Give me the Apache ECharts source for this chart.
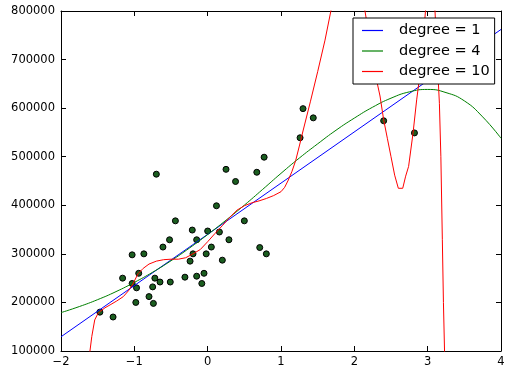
<!DOCTYPE html>
<html>
<head>
<meta charset="utf-8">
<script src="https://cdn.jsdelivr.net/npm/echarts@6/dist/echarts.min.js"></script>
<style>html,body{margin:0;padding:0;background:#fff}#c{width:515px;height:380px}</style>
</head>
<body>
<div id="c"></div>
<script>
// Data
var xTicks = [-2, -1, 0, 1, 2, 3, 4];
var yTicks = [100000, 200000, 300000, 400000, 500000, 600000, 700000, 800000];
var seriesNames = ['degree = 1', 'degree = 4', 'degree = 10'];

var pointsX = [-1.47, -1.29, -1.16, -1.03, -0.87, -0.70, -0.44, -0.21, -0.15, -0.52,
  -0.61, -0.20, -0.24, -0.94, -0.72, -0.31, -0.15, -0.65, -0.51, -1.03,
  -0.97, -0.75, -0.80, -0.98, -0.74, 0.77, 0.25, 0.67, 0.38, 0.12,
  0.50, 0.00, 0.16, 0.29, 0.05, -0.02, 0.71, 0.80, 0.20, -0.05,
  -0.08, 1.30, 1.44, 1.26, 2.40, 2.82];
var pointsY = [180000, 170000, 250000, 298000, 300000, 464000, 368000, 349000, 329000, 329000,
  314000, 300000, 285000, 260000, 250000, 252000, 254000, 242000, 242000, 239000,
  230000, 232000, 212000, 200000, 198000, 499000, 474000, 468000, 449000, 399000,
  368000, 347000, 345000, 329000, 314000, 300000, 313000, 300000, 287000, 260000,
  239000, 599000, 580000, 539000, 574000, 549000];

var deg1X = [-2, 4];
var deg1Y = [129300, 762000];

var deg4X = [-2, -1.75, -1.5, -1.25, -1, -0.75, -0.5, -0.25, 0, 0.25, 0.5, 0.75, 1,
  1.25, 1.5, 1.75, 2, 2.25, 2.5, 2.75, 3, 3.25, 3.5, 3.75, 4];
var deg4Y = [179000, 191500, 205750, 222250, 241250, 262250, 285750, 311750, 339750, 369250,
  400250, 432750, 465750, 497250, 526500, 554500, 579500, 602000, 620500, 633500, 638500,
  632000, 615000, 582000, 538000];

var deg10X = [-1.64, -1.605, -1.58, -1.54, -1.50, -1.47, -1.40, -1.33, -1.24, -1.15, -1.08, -1.02,
  -0.95, -0.88, -0.80, -0.70, -0.60, -0.50, -0.40, -0.30, -0.20, -0.10, 0.0, 0.1, 0.2, 0.3, 0.4,
  0.5, 0.6, 0.7, 0.8, 0.9, 1.0, 1.05, 1.1, 1.15, 1.2, 1.25, 1.3, 1.4, 1.5, 1.6, 1.68, 1.8, 1.9, 2.0, 2.08, 2.145,
  2.25, 2.30, 2.35, 2.40, 2.45, 2.50, 2.55, 2.60, 2.66, 2.70, 2.74, 2.80, 2.85, 2.885, 2.92, 2.95, 2.97, 3.03,
  3.07, 3.10, 3.13, 3.16, 3.18, 3.20, 3.215, 3.23, 3.25];
var deg10Y = [-20000, 100000, 130000, 164000, 176000, 181000, 189000, 195000, 203000, 212000, 224000, 238000,
  259000, 270000, 279000, 285000, 288000, 289000, 289000, 292000, 300000, 309000, 325000, 342000, 358000, 375000, 390000,
  399000, 405000, 409000, 414000, 420000, 428000, 437000, 452000, 470000, 492000, 522000, 553000, 613000, 675000, 740000, 800000, 900000, 950000, 940000, 880000, 800000,
  705000, 660000, 625000, 576000, 538000, 500000, 462000, 435000, 435000, 460000, 480000, 548000, 617000, 658000, 710000, 760000, 800000, 870000,
  850000, 800000, 700000, 610000, 500000, 330000, 200000, 100000, -80000];

function zip(a, b) { return a.map(function (v, i) { return [v, b[i]]; }); }

var FONT = 'DejaVu Sans';
var chart = echarts.init(document.getElementById('c'), null, { renderer: 'canvas' });
var tickStyle = { show: true, inside: true, length: 5, lineStyle: { color: '#000', width: 1 } };
var lineStyleAxis = { show: true, onZero: false, lineStyle: { color: '#000', width: 1 } };

chart.setOption({
  animation: false,
  backgroundColor: '#fff',
  grid: { left: 61, right: 14, top: 11, bottom: 29, containLabel: false },
  xAxis: [
    { type: 'value', min: xTicks[0], max: xTicks[xTicks.length - 1], interval: 1, position: 'bottom',
      axisLine: lineStyleAxis, axisTick: tickStyle, splitLine: { show: false },
      axisLabel: { color: '#000', fontFamily: FONT, fontSize: 11.5, margin: 5,
        formatter: function (v) { return String(v).replace('-', '\u2212'); } } },
    { type: 'value', min: xTicks[0], max: xTicks[xTicks.length - 1], interval: 1, position: 'top',
      axisLine: lineStyleAxis, axisTick: tickStyle, splitLine: { show: false }, axisLabel: { show: false } }
  ],
  yAxis: [
    { type: 'value', min: yTicks[0], max: yTicks[yTicks.length - 1], interval: 100000, position: 'left',
      axisLine: lineStyleAxis, axisTick: tickStyle, splitLine: { show: false },
      axisLabel: { color: '#000', fontFamily: FONT, fontSize: 11.5, margin: 6,
        formatter: function (v) { return String(v); } } },
    { type: 'value', min: yTicks[0], max: yTicks[yTicks.length - 1], interval: 100000, position: 'right',
      axisLine: lineStyleAxis, axisTick: tickStyle, splitLine: { show: false }, axisLabel: { show: false } }
  ],
  legend: {
    data: seriesNames, orient: 'vertical', left: 353, top: 18,
    icon: 'rect', itemWidth: 21, itemHeight: 1.2, itemGap: 5.5, padding: [5, 5, 5, 9],
    backgroundColor: '#fff', borderColor: '#000', borderWidth: 1, borderRadius: 0,
    textStyle: { color: '#000', fontFamily: FONT, fontSize: 14.5, lineHeight: 15, padding: [0, 0, 0, 11] }
  },
  series: [
    { type: 'scatter', name: 'points', data: zip(pointsX, pointsY), symbolSize: 6, z: 1,
      itemStyle: { color: '#1b5e20', borderColor: '#000', borderWidth: 1, opacity: 1 } },
    { type: 'line', name: seriesNames[0], data: zip(deg1X, deg1Y), symbol: 'none', showSymbol: false, z: 3, clip: true,
      lineStyle: { color: '#0000ff', width: 1 }, itemStyle: { color: '#0000ff' } },
    { type: 'line', name: seriesNames[1], data: zip(deg4X, deg4Y), symbol: 'none', showSymbol: false, z: 3, clip: true, smooth: 0.5,
      lineStyle: { color: '#008000', width: 1 }, itemStyle: { color: '#008000' } },
    { type: 'line', name: seriesNames[2], data: zip(deg10X, deg10Y), symbol: 'none', showSymbol: false, z: 3, clip: true,
      lineStyle: { color: '#ff0000', width: 1 }, itemStyle: { color: '#ff0000' } }
  ]
});
</script>
</body>
</html>
